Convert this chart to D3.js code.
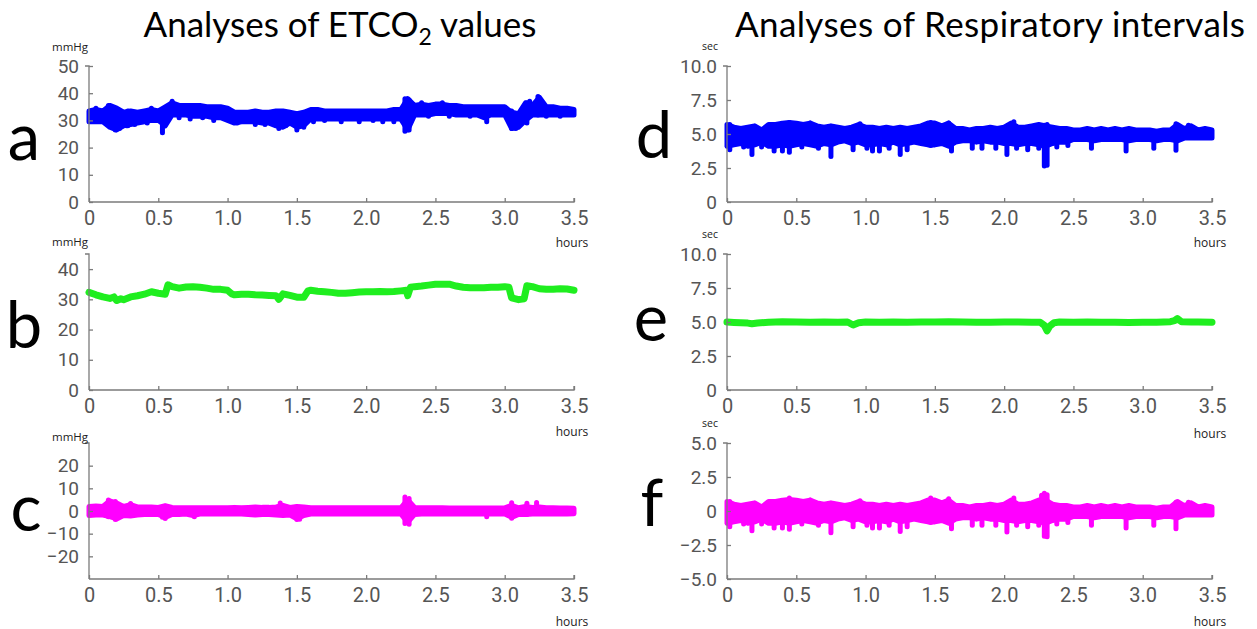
<!DOCTYPE html>
<html>
<head>
<meta charset="utf-8">
<script src="https://cdn.jsdelivr.net/npm/d3@7"></script>
<style>
  body { margin: 0; background: #fff; }
  svg { display: block; }
</style>
</head>
<body>
<svg id="chart" width="1257" height="629"></svg>
<script>
// ---------- data ----------
// Sampling grid (hours) for the banded, breath-by-breath series
const gridHours = d3.range(0, 71).map(i => +(i * 0.05).toFixed(2));

// a: ETCO2 raw values (mmHg), upper / lower envelope on the grid
const etco2Hi = [
  33.5,34,33.5,35.5,34.5,33,33.5,33,33.5,34,
  33.5,35,36.5,35.5,35.5,35.5,35.5,35,35,35,
  34.5,33,33,33,33.5,33,33,33.5,33.5,33,
  32.5,33,34,34,33.5,33.5,33.5,33.5,33.5,33.5,
  33.5,33.5,33.5,33.5,34,34,38,35.5,36,35.5,
  36,36,35.5,35.5,35,35,35,35,35,35,
  35,33,32.5,36.5,35.5,38.5,35,35,34.5,34.5,
  34];
const etco2Lo = [
  29.5,29.5,29.5,27.5,26.5,28,28.5,29,29.5,30,
  30,28,32,32,32,31.5,31.5,31.5,31,31,
  30,29,29.5,29.5,29.5,29,29,28,27.5,29,
  27.5,28,30.5,30.5,30.5,30.5,30.5,30.5,30.5,30.5,
  30.5,30.5,30.5,30.5,30.5,30.5,26.5,32,32,32,
  32.5,32.5,32.5,32,32,32,32,31,32,32,
  32,27,27.5,30,32,32,32,32,32,32,
  32];
// single-breath excursions: [hour, low, high]
const etco2Spikes = [
  [0.05,31,34.5],[0.14,28.5,35.5],[0.19,26.5,34],[0.22,27,32],[0.27,28,32],[0.28,28,33.5],
  [0.33,28.5,32],[0.42,29,33],[0.45,31,34.5],[0.53,25.5,32],[0.6,33,37],[0.65,31,34],
  [0.73,30.5,34],[0.82,31,34],[0.9,30,34],[1.07,29,32],[1.2,28.5,32],[1.27,28.5,32],
  [1.37,27,32.5],[1.42,28,32],[1.5,26.5,32.5],[1.55,27.5,32],[1.62,29.5,32],[1.7,30,32],
  [1.82,29.5,32],[1.95,29.5,32],[2.05,30,32],[2.12,29.5,32],[2.2,29.5,32],[2.28,26,38],
  [2.31,26.5,37.5],[2.4,33,36.5],[2.45,31.5,34],[2.55,33,36.5],[2.6,31.5,34],[2.75,31.5,34],
  [2.87,29.5,33],[3.05,27,33.5],[3.08,27,32],[3.16,29,36.5],[3.18,33,37],[3.24,32,38.8],
  [3.3,31.5,34],[3.4,31.5,34]];

// b: ETCO2 trend (mmHg)
const trendHours = [0,0.05,0.1,0.15,0.18,0.2,0.23,0.25,0.3,0.35,0.4,0.45,0.5,0.55,0.57,0.6,0.65,0.7,0.75,0.8,
  0.85,0.9,0.95,1.0,1.03,1.05,1.1,1.15,1.2,1.25,1.3,1.35,1.37,1.4,1.45,1.5,1.55,1.58,1.6,1.65,
  1.7,1.75,1.8,1.85,1.9,1.95,2.0,2.05,2.1,2.15,2.2,2.25,2.29,2.3,2.32,2.35,2.4,2.45,2.5,2.55,
  2.6,2.65,2.7,2.75,2.8,2.85,2.9,2.95,3.0,3.03,3.05,3.1,3.14,3.16,3.2,3.25,3.3,3.35,3.4,3.45,3.5];
const etco2Trend = [32.3,31.5,30.8,30.3,30.8,29.6,30.2,29.9,30.8,31.2,31.7,32.5,32.0,31.7,34.8,34.2,33.7,34.1,34.2,34.0,
  33.7,33.3,33.3,33.0,31.8,31.5,31.7,31.7,31.5,31.4,31.3,31.2,30.0,31.8,31.3,30.7,30.7,32.8,33.0,32.7,
  32.5,32.3,32.0,32.0,32.2,32.4,32.5,32.5,32.6,32.5,32.6,32.8,33.0,31.2,34.0,34.2,34.4,34.7,35.0,35.0,
  35.0,34.4,34.0,33.8,33.8,33.8,34.0,34.0,34.2,34.0,30.5,29.9,30.2,34.5,34.2,33.5,33.3,33.3,33.5,33.4,33.0];

// c: ETCO2 deviation from trend (mmHg)
const etco2DevHi = [
  2.0,2.2,2.0,4.5,3.5,2.0,2.8,1.8,1.8,1.8,
  1.6,2.3,1.6,1.4,1.4,1.4,1.4,1.4,1.4,1.4,
  1.4,1.6,1.4,1.6,1.8,1.6,1.6,1.8,2.5,1.6,
  2.0,1.8,1.4,1.4,1.4,1.4,1.4,1.4,1.4,1.4,
  1.4,1.4,1.4,1.4,1.4,1.4,5.0,1.6,1.4,1.4,
  1.4,1.4,1.3,1.3,1.3,1.3,1.3,1.3,1.3,1.3,
  1.4,2.5,1.4,2.0,1.6,1.8,1.4,1.4,1.3,1.3,
  1.2];
const etco2DevLo = [
  -2.0,-1.8,-1.8,-2.5,-3.5,-2.0,-2.2,-1.8,-1.5,-1.5,
  -1.5,-2.8,-1.5,-1.5,-1.3,-2.0,-1.3,-1.3,-1.3,-1.3,
  -1.3,-1.3,-1.3,-1.5,-1.8,-1.5,-1.5,-1.8,-2.0,-1.8,
  -3.5,-2.0,-1.3,-1.3,-1.3,-1.3,-1.3,-1.3,-1.3,-1.3,
  -1.3,-1.3,-1.3,-1.3,-1.3,-1.3,-5.0,-1.5,-1.3,-1.3,
  -1.3,-1.3,-1.3,-1.3,-1.3,-1.3,-1.3,-1.3,-1.3,-1.3,
  -1.3,-2.8,-1.5,-1.5,-1.3,-1.3,-1.3,-1.3,-1.3,-1.3,
  -1.2];
const etco2DevSpikes = [
  [0.14,-2.5,4.8],[0.19,-3.8,4.2],[0.3,-1.6,3.3],[0.53,-2.8,1.5],[0.55,-3.3,2.1],
  [0.76,-2.5,0],[1.38,-1.5,3.5],[1.5,-3.8,1.8],[1.52,-3.6,1.6],[2.28,-5.5,6.2],
  [2.31,-5.8,5.5],[2.87,-2.5,0],[3.05,-3.2,3.6],[3.16,-1.5,3.4],[3.23,0,3.8]];

// d: respiratory intervals (sec)
const riHi = [
  5.7,5.5,5.4,5.5,5.6,5.3,5.7,5.7,5.8,5.85,
  5.8,5.7,5.8,5.6,5.5,5.6,5.5,5.4,5.5,5.7,
  5.5,5.5,5.4,5.5,5.4,5.5,5.4,5.5,5.6,5.8,
  5.8,5.6,5.8,5.4,5.4,5.3,5.4,5.4,5.5,5.4,
  5.5,5.8,5.5,5.5,5.6,5.7,5.6,5.5,5.4,5.4,
  5.3,5.3,5.4,5.3,5.4,5.3,5.4,5.3,5.4,5.3,
  5.3,5.3,5.2,5.3,5.3,5.7,5.4,5.6,5.3,5.4,
  5.3];
const riLo = [
  4.1,4.2,4.3,4.1,4.2,4.4,4.1,4.1,4.2,4.1,
  4.2,4.3,4.2,4.1,4.3,4.2,4.4,4.5,4.3,4.4,
  4.2,4.2,4.3,4.2,4.4,4.2,4.3,4.4,4.3,4.2,
  4.2,4.3,4.1,4.4,4.5,4.5,4.4,4.5,4.4,4.4,
  4.3,4.3,4.2,4.3,4.3,4.2,4.1,4.3,4.4,4.4,
  4.6,4.6,4.6,4.5,4.6,4.6,4.6,4.6,4.5,4.6,
  4.6,4.6,4.5,4.6,4.6,4.5,4.7,4.7,4.7,4.7,
  4.7];
const riSpikes = [
  [0.02,3.85,5.7],[0.12,4.05,5],[0.18,3.5,5],[0.25,4.05,5],[0.34,3.75,5],[0.4,3.75,5],
  [0.45,3.65,5.85],[0.54,4.05,5],[0.6,5,5.8],[0.66,3.95,5],[0.75,3.35,5],[0.91,3.85,5],
  [0.96,5,5.75],[1.01,3.95,5],[1.05,3.75,5],[1.1,3.75,5],[1.17,3.95,5],[1.25,3.5,5],
  [1.3,3.85,5],[1.47,4.15,5.85],[1.6,5,5.8],[1.62,3.75,5],[1.77,3.95,5],[1.84,3.95,5],
  [1.94,3.95,5],[2.02,3.5,5],[2.07,5,5.9],[2.09,3.95,5],[2.17,3.85,5],[2.25,3.95,5],
  [2.29,2.65,5.65],[2.31,2.7,5.7],[2.38,4.05,5],[2.46,4.15,5],[2.63,3.95,5],[2.88,3.75,5],
  [3.08,3.95,5],[3.24,3.8,5.75],[3.33,5,5.65]];

// e: respiratory interval trend (sec)
const riTrendHours = [0,0.05,0.1,0.15,0.18,0.22,0.3,0.4,0.5,0.6,0.7,0.8,0.87,0.91,0.95,1.0,1.1,1.2,1.3,1.4,
  1.5,1.6,1.7,1.8,1.9,2.0,2.1,2.2,2.26,2.29,2.31,2.33,2.36,2.4,2.5,2.6,2.7,2.8,2.9,3.0,
  3.1,3.2,3.23,3.25,3.28,3.35,3.4,3.5];
const riTrend = [5.0,4.97,4.95,4.92,4.87,4.92,4.98,5.01,5.0,4.99,5.0,4.98,5.0,4.78,4.95,5.0,4.98,5.0,4.99,5.0,
  5.0,5.02,5.0,4.98,4.99,5.0,5.0,4.99,4.98,4.75,4.35,4.7,4.95,5.0,4.98,5.0,4.99,4.98,4.97,4.98,
  4.99,5.02,5.1,5.25,5.02,5.0,5.0,4.99];

// f: respiratory interval deviation from trend (sec)
const riDevHi = [
  0.7,0.5,0.4,0.5,0.6,0.3,0.7,0.7,0.8,0.85,
  0.8,0.7,0.8,0.6,0.5,0.6,0.5,0.4,0.5,0.7,
  0.5,0.5,0.4,0.5,0.4,0.5,0.4,0.5,0.6,0.8,
  0.8,0.6,0.8,0.4,0.4,0.3,0.4,0.4,0.5,0.4,
  0.5,0.8,0.5,0.5,0.6,0.8,0.8,0.5,0.4,0.4,
  0.3,0.3,0.4,0.3,0.4,0.3,0.4,0.3,0.4,0.3,
  0.3,0.3,0.2,0.3,0.3,0.7,0.4,0.6,0.3,0.4,
  0.3];
const riDevLo = [
  -0.9,-0.8,-0.7,-0.9,-0.8,-0.6,-0.9,-0.9,-0.8,-0.9,
  -0.8,-0.7,-0.8,-0.9,-0.7,-0.8,-0.6,-0.5,-0.7,-0.6,
  -0.8,-0.8,-0.7,-0.8,-0.6,-0.8,-0.7,-0.6,-0.7,-0.8,
  -0.8,-0.7,-0.9,-0.6,-0.5,-0.5,-0.6,-0.5,-0.6,-0.6,
  -0.7,-0.7,-0.8,-0.7,-0.7,-0.8,-0.9,-0.7,-0.6,-0.6,
  -0.4,-0.4,-0.4,-0.5,-0.4,-0.4,-0.4,-0.4,-0.5,-0.4,
  -0.4,-0.4,-0.5,-0.4,-0.4,-0.5,-0.3,-0.3,-0.3,-0.3,
  -0.3];
const riDevSpikes = [
  [0.02,-1.15,0.7],[0.12,-0.95,0],[0.18,-1.45,0],[0.25,-0.95,0],[0.34,-1.25,0],[0.4,-1.25,0],
  [0.45,-1.35,0.95],[0.54,-0.95,0],[0.6,0,0.8],[0.66,-1.05,0],[0.75,-1.6,0],[0.91,-1.15,0],
  [0.96,0,0.75],[1.01,-1.05,0],[1.05,-1.25,0],[1.1,-1.25,0],[1.17,-1.05,0],[1.25,-1.5,0],
  [1.3,-1.15,0],[1.47,-0.85,0.95],[1.6,0,0.9],[1.62,-1.3,0],[1.77,-1.05,0],[1.84,-1.05,0],
  [1.94,-1.05,0],[2.02,-1.55,0],[2.07,0,0.95],[2.09,-1.05,0],[2.17,-1.15,0],[2.25,-1.05,0.7],
  [2.27,0,1.15],[2.29,-1.85,1.3],[2.31,-1.9,1.2],[2.38,-0.95,0],[2.46,-0.85,0],[2.63,-1.05,0],
  [2.88,-1.25,0],[3.08,-1.05,0],[3.24,-1.3,0.65],[3.33,0,0.65]];

// axis tick values
const hourTicks = [0, 0.5, 1, 1.5, 2, 2.5, 3, 3.5];
const etco2Ticks = [0, 10, 20, 30, 40, 50];
const etco2TrendTicks = [0, 10, 20, 30, 40];
const etco2DevTicks = [-20, -10, 0, 10, 20];
const riTicks = [0, 2.5, 5, 7.5, 10];
const riDevTicks = [-5, -2.5, 0, 2.5, 5];

// ---------- layout ----------
const svg = d3.select("#chart");
svg.append("rect").attr("width", 1257).attr("height", 629).attr("fill", "#fff");

const rows = [[66, 202], [254, 390], [443, 579]];
const cols = [[89, 574], [727, 1212]];
const BLUE = "#0000ff", GREEN = "#1fee1f", MAGENTA = "#ff00ff";
const AXIS = "#7b7b7b", TICKTXT = "#555555";
const decFmt = v => v === 0 ? "0" : d3.format(".1f")(v);

const panels = [
  { col: 0, row: 0, letter: "a", unit: "mmHg", domain: [0, 50], ticks: etco2Ticks, fmt: d3.format("d"),
    kind: "band", hi: etco2Hi, lo: etco2Lo, spikes: etco2Spikes, color: BLUE },
  { col: 0, row: 1, letter: "b", unit: "mmHg", domain: [0, 45], ticks: etco2TrendTicks, fmt: d3.format("d"),
    kind: "line", x: trendHours, y: etco2Trend, color: GREEN },
  { col: 0, row: 2, letter: "c", unit: "mmHg", domain: [-30, 30], ticks: etco2DevTicks, fmt: d3.format("d"),
    kind: "band", hi: etco2DevHi, lo: etco2DevLo, spikes: etco2DevSpikes, color: MAGENTA },
  { col: 1, row: 0, letter: "d", unit: "sec", domain: [0, 10], ticks: riTicks, fmt: decFmt,
    kind: "band", hi: riHi, lo: riLo, spikes: riSpikes, color: BLUE },
  { col: 1, row: 1, letter: "e", unit: "sec", domain: [0, 10], ticks: riTicks, fmt: decFmt,
    kind: "line", x: riTrendHours, y: riTrend, color: GREEN },
  { col: 1, row: 2, letter: "f", unit: "sec", domain: [-5, 5], ticks: riDevTicks, fmt: decFmt,
    kind: "band", hi: riDevHi, lo: riDevLo, spikes: riDevSpikes, color: MAGENTA }
];

const letterPos = {
  a: [24, 160], b: [24, 348], c: [26, 531],
  d: [654, 158], e: [651, 341], f: [652, 526]
};

panels.forEach(p => {
  const [x0, x1] = cols[p.col];
  const [yTop, yBot] = rows[p.row];
  const x = d3.scaleLinear().domain([0, 3.5]).range([x0, x1]);
  const y = d3.scaleLinear().domain(p.domain).range([yBot, yTop]);
  const g = svg.append("g");

  // series
  if (p.kind === "band") {
    const area = d3.area()
      .x((d, i) => x(gridHours[i]))
      .y0((d, i) => y(p.lo[i]))
      .y1((d, i) => y(p.hi[i]));
    g.append("path").datum(p.hi)
      .attr("d", area)
      .attr("fill", p.color)
      .attr("stroke", p.color)
      .attr("stroke-width", 5)
      .attr("stroke-linejoin", "round");
    g.selectAll("line.spike").data(p.spikes).join("line")
      .attr("class", "spike")
      .attr("x1", d => x(d[0])).attr("x2", d => x(d[0]))
      .attr("y1", d => y(d[1])).attr("y2", d => y(d[2]))
      .attr("stroke", p.color)
      .attr("stroke-width", 5)
      .attr("stroke-linecap", "round");
  } else {
    const line = d3.line()
      .x((d, i) => x(p.x[i]))
      .y(d => y(d));
    g.append("path").datum(p.y)
      .attr("d", line)
      .attr("fill", "none")
      .attr("stroke", p.color)
      .attr("stroke-width", 7)
      .attr("stroke-linejoin", "round")
      .attr("stroke-linecap", "round");
  }

  // y axis (ticks point inward)
  const yAxis = d3.axisLeft(y).tickValues(p.ticks).tickSize(-4).tickPadding(10).tickFormat(p.fmt);
  const ya = g.append("g").attr("transform", `translate(${x0},0)`).call(yAxis);
  ya.select(".domain").attr("stroke", AXIS).attr("stroke-width", 1.3)
    .attr("d", `M-4,${yTop}H0V${yBot}`);
  ya.selectAll(".tick line").attr("stroke", AXIS).attr("stroke-width", 1.3);
  ya.selectAll(".tick text")
    .attr("fill", TICKTXT)
    .attr("font-family", "Roboto, 'Noto Sans', sans-serif")
    .attr("font-size", 19);

  // x axis (ticks point upward)
  const xAxis = d3.axisBottom(x).tickValues(hourTicks).tickSize(-4).tickPadding(9).tickFormat(decFmt);
  const xa = g.append("g").attr("transform", `translate(0,${yBot})`).call(xAxis);
  xa.select(".domain").attr("stroke", AXIS).attr("stroke-width", 1.3)
    .attr("d", `M${x0},0H${x1}V-4`);
  xa.selectAll(".tick line").attr("stroke", AXIS).attr("stroke-width", 1.3);
  xa.selectAll(".tick text")
    .attr("fill", TICKTXT)
    .attr("font-family", "Roboto, 'Noto Sans', sans-serif")
    .attr("font-size", 20);

  // unit labels
  const unitX = p.col === 0 ? 52 : 702;
  const unitY = p.col === 0 ? [46, 241, 436][p.row] : [46, 234, 423][p.row];
  g.append("text")
    .attr("x", unitX).attr("y", unitY)
    .attr("dominant-baseline", "central")
    .attr("font-family", "'Open Sans', 'Noto Sans', sans-serif")
    .attr("font-size", p.col === 0 ? 11.5 : 10.5)
    .attr("fill", "#222")
    .text(p.unit);

  const hoursY = p.col === 0 ? [242, 431, 621][p.row] : [242, 433, 621][p.row];
  g.append("text")
    .attr("x", x1 - 2).attr("y", hoursY)
    .attr("text-anchor", "middle")
    .attr("dominant-baseline", "central")
    .attr("font-family", "'Open Sans', 'Noto Sans', sans-serif")
    .attr("font-size", 12)
    .attr("fill", "#222")
    .text("hours");

  // panel letter
  svg.append("text")
    .attr("x", letterPos[p.letter][0]).attr("y", letterPos[p.letter][1])
    .attr("text-anchor", "middle")
    .attr("font-family", "Lato, 'Open Sans', sans-serif")
    .attr("font-size", 65)
    .attr("fill", "#000")
    .text(p.letter);
});

// column titles
const titleLeft = svg.append("text")
  .attr("x", 340).attr("y", 37)
  .attr("text-anchor", "middle")
  .attr("font-family", "Lato, 'Open Sans', sans-serif")
  .attr("font-size", 35)
  .attr("fill", "#000");
titleLeft.append("tspan").text("Analyses of ETCO");
titleLeft.append("tspan").attr("font-size", 23).attr("dy", 8).text("2");
titleLeft.append("tspan").attr("dy", -8).text(" values");

svg.append("text")
  .attr("x", 990).attr("y", 37)
  .attr("text-anchor", "middle")
  .attr("font-family", "Lato, 'Open Sans', sans-serif")
  .attr("font-size", 35)
  .attr("fill", "#000")
  .attr("textLength", 510)
  .attr("lengthAdjust", "spacing")
  .text("Analyses of Respiratory intervals");
</script>
</body>
</html>
